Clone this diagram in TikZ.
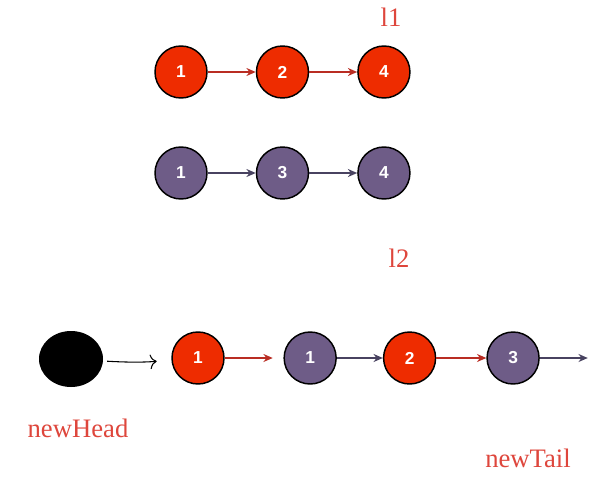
\documentclass[tikz,border=0pt]{standalone}
\usepackage{fontspec}
\usepackage{tikz}
\usetikzlibrary{positioning, arrows.meta, shapes.geometric}
\newfontfamily\labelfont{Liberation Serif}
\newfontfamily\numfont{Liberation Sans}
\definecolor{nodered}{RGB}{238,44,0}
\definecolor{nodepurple}{RGB}{110,92,135}
\definecolor{linkred}{RGB}{185,45,35}
\definecolor{linkpurple}{RGB}{72,66,96}
\definecolor{textred}{RGB}{222,70,60}
\tikzset{
    listnode/.style={circle, draw=black, line width=1.1pt, minimum size=39pt, inner sep=0pt,
      text=white, font=\numfont\bfseries\fontsize{13}{13}\selectfont},
    rednode/.style={listnode, fill=nodered},
    purplenode/.style={listnode, fill=nodepurple},
    redlink/.style={draw=linkred, line width=1.1pt, -{Stealth[length=7pt, width=6pt]}},
    purplelink/.style={draw=linkpurple, line width=1.1pt, -{Stealth[length=7pt, width=6pt]}},
    listname/.style={text=textred, font=\labelfont\fontsize{20}{20}\selectfont},
}
\begin{document}
\begin{tikzpicture}[x=0.75pt, y=-0.75pt]
    \useasboundingbox (0,0) rectangle (595,481);
    \tikzset{node distance=36pt}

    % l1
    \node[listname] (l1) at (391,17) {l1};
    \node[rednode] (a1) at (181,72) {1};
    \node[rednode, right=of a1] (a2) {2};
    \node[rednode, right=of a2] (a4) {4};
    \draw[redlink] (a1) -- (a2);
    \draw[redlink] (a2) -- (a4);

    % l2
    \node[purplenode] (b1) at (181,173) {1};
    \node[purplenode, right=of b1] (b3) {3};
    \node[purplenode, right=of b3] (b4) {4};
    \draw[purplelink] (b1) -- (b3);
    \draw[purplelink] (b3) -- (b4);
    \node[listname] (l2) at (399,258) {l2};

    % merged list
    \node[ellipse, fill=black, minimum width=48pt, minimum height=42pt] (head) at (71,359) {};
    \node[listname] (headname) at (78,428) {newHead};
    \node[rednode] (c1) at (198,358) {1};
    \node[purplenode, right=44pt of c1] (d1) {1};
    \node[rednode, right=34.5pt of d1] (c2) {2};
    \node[purplenode, right=37.5pt of c2] (d3) {3};
    \coordinate[right=36pt of d3] (tail);
    \node[listname] (tailname) at (528,458) {newTail};

    \draw[black, line width=0.8pt, shorten <=3pt, shorten >=11pt,
      -{To[length=5pt, width=11pt]}] (head) to[bend right=4] (c1);
    \draw[redlink, shorten >=8pt] (c1) -- (d1);
    \draw[purplelink] (d1) -- (c2);
    \draw[redlink] (c2) -- (d3);
    \draw[purplelink] (d3) -- (tail);
\end{tikzpicture}
\end{document}
